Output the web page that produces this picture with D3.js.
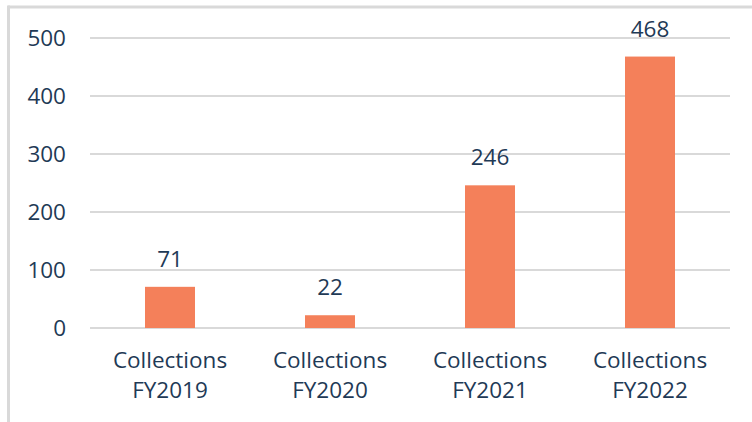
<!DOCTYPE html>
<html>
<head>
<meta charset="utf-8">
<script src="https://cdn.jsdelivr.net/npm/d3@7"></script>
<style>
  body { margin: 0; background: #fff; }
  text { font-family: "Open Sans", sans-serif; fill: #1f3a56; }
</style>
</head>
<body>
<div id="chart-area"></div>
<script>
// values
let categories = ["Collections FY2019", "Collections FY2020", "Collections FY2021", "Collections FY2022"];
let collections = [71, 22, 246, 468];
let yTicks = [0, 100, 200, 300, 400, 500];

let W = 752, H = 422;
let margin = {top: 38, right: 22, bottom: 94, left: 90},
    width = W - margin.left - margin.right,
    height = H - margin.top - margin.bottom;

let svg = d3.select("#chart-area").append("svg")
    .attr("width", W)
    .attr("height", H);

// frame (only top and left show in the original crop)
svg.append("line").attr("x1", 8).attr("x2", W).attr("y1", 7).attr("y2", 7)
    .attr("stroke", "#d9d9d9").attr("stroke-width", 3);
svg.append("line").attr("x1", 8.5).attr("x2", 8.5).attr("y1", 5.5).attr("y2", H)
    .attr("stroke", "#d9d9d9").attr("stroke-width", 3);

let g = svg.append("g")
    .attr("transform", "translate(" + margin.left + "," + margin.top + ")");

let x = d3.scaleBand()
    .domain(categories)
    .range([0, width])
    .paddingInner(110 / 160)
    .paddingOuter(55 / 160);

let y = d3.scaleLinear()
    .domain([0, 500])
    .range([height, 0]);

// gridlines
g.selectAll(".grid")
    .data(yTicks)
    .enter().append("line")
    .attr("class", "grid")
    .attr("x1", 0).attr("x2", width)
    .attr("y1", d => y(d)).attr("y2", d => y(d))
    .attr("stroke", "#d9d9d9")
    .attr("stroke-width", 2);

// y axis labels
let yAxis = d3.axisLeft(y).tickValues(yTicks).tickSize(0).tickPadding(24);
let yAxisGroup = g.append("g").attr("class", "y-axis").call(yAxis);
yAxisGroup.select(".domain").remove();
yAxisGroup.selectAll("text")
    .style("font-size", "22.5px")
    .attr("fill", "#1f3a56");

// bars
let data = categories.map((c, i) => ({cat: c, value: collections[i]}));

g.selectAll(".bar")
    .data(data)
    .enter().append("rect")
    .attr("class", "bar")
    .attr("x", d => x(d.cat))
    .attr("y", d => y(d.value))
    .attr("width", x.bandwidth())
    .attr("height", d => height - y(d.value))
    .attr("fill", "#f4805a");

// value labels
g.selectAll(".val")
    .data(data)
    .enter().append("text")
    .attr("class", "val")
    .attr("x", d => x(d.cat) + x.bandwidth() / 2)
    .attr("y", d => y(d.value) - 20)
    .attr("text-anchor", "middle")
    .style("font-size", "22.5px")
    .text(d => d.value);

// category labels, two lines
let catLabels = g.selectAll(".cat")
    .data(data)
    .enter().append("text")
    .attr("class", "cat")
    .attr("text-anchor", "middle")
    .attr("transform", d => "translate(" + (x(d.cat) + x.bandwidth() / 2) + "," + (height + 40) + ")")
    .style("font-size", "22.5px");

catLabels.append("tspan")
    .attr("x", 0).attr("y", 0)
    .text(d => d.cat.split(" ")[0]);
catLabels.append("tspan")
    .attr("x", 0).attr("y", 30)
    .text(d => d.cat.split(" ")[1]);
</script>
</body>
</html>
